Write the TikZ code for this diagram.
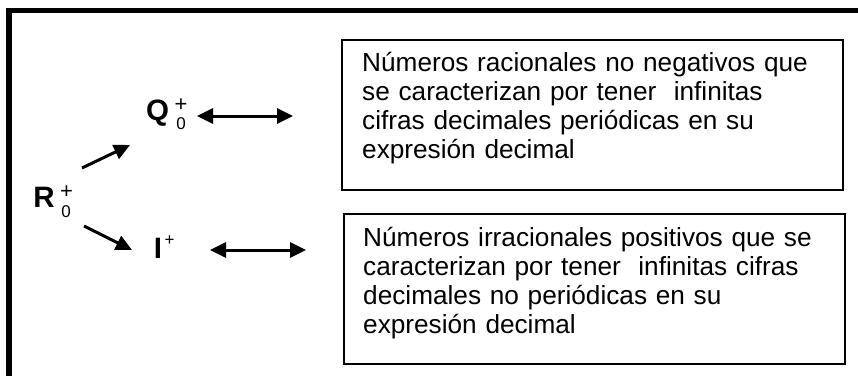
\documentclass[tikz,border=0pt]{standalone}
\usepackage{fontspec}
\setmainfont{Liberation Sans}
\usetikzlibrary{arrows.meta,positioning}
\def\boxwidth{501pt}
\def\boxheight{150pt}

\begin{document}
\begin{tikzpicture}[x=1pt,y=-1pt,>={Triangle[length=16pt,width=15pt]}]
    \tikzstyle{frame}=[line width=5.5pt,line join=miter]
    \tikzstyle{set}=[font=\fontsize{29.5}{29.5}\selectfont\bfseries,inner sep=0pt]
    \tikzstyle{index}=[font=\fontsize{17}{17}\selectfont,inner sep=0pt]
    \tikzstyle{sign}=[font=\fontsize{22}{22}\selectfont,inner sep=0pt]
    \tikzstyle{textbox}=[draw,line width=2pt,minimum width=\boxwidth,minimum height=\boxheight,inner sep=0pt,anchor=north west]
    \tikzstyle{annot}=[font=\fontsize{26.2}{29}\selectfont,text width=470pt,align=left,inner sep=0pt,anchor=north west]
    \tikzstyle{link}=[line width=3pt]

    \useasboundingbox (0,0) rectangle (858,376);

    % Outer frame, cut off at the right and at the bottom
    \draw[frame] (9,376) -- (9,10.5) -- (858,10.5);

    % Draw the sets with their indices
    \node[set] (R) at (44,197.5) {R};
    \node[sign] (R-p) at (66.5,192.5) {+};
    \node[index] (R-0) at (66,211.5) {0};

    \node[set] (Q) at (157.5,113) {Q};
    \node[sign] (Q-p) at (181,105.5) {+};
    \node[index] (Q-0) at (181,123.5) {0};

    \node[set] (I) at (158,248) {I};
    \node[index] (I-p) at (169.5,241) {+};

    % Draw the two boxes and their texts
    \node[textbox] (Qbox) at (341,39) {};
    \node[textbox] (Ibox) at (343,213) {};
    \node[annot] (Qtext) at (362,52.5)
        {Números racionales no negativos que\\
         se caracterizan por tener\ \ infinitas\\
         cifras decimales periódicas en su\\
         expresión decimal};
    \node[annot] (Itext) at (363,227)
        {Números irracionales positivos que se\\
         caracterizan por tener\ \ infinitas cifras\\
         decimales no periódicas en su\\
         expresión decimal};

    % Split R into Q and I
    \coordinate (R-up) at (82,168);
    \coordinate (Q-in) at (130,145);
    \coordinate (R-dn) at (84,226);
    \coordinate (I-in) at (132,250);
    \draw[link,->] (R-up) -- (Q-in);
    \draw[link,->] (R-dn) -- (I-in);

    % Link every set with its box
    \coordinate (Q-out) at (197,116);
    \coordinate (I-out) at (210,250);
    \draw[link,<->,shorten >=48pt] (Q-out) -- (Q-out -| Qbox.west);
    \draw[link,<->,shorten >=37pt] (I-out) -- (I-out -| Ibox.west);
\end{tikzpicture}
\end{document}
